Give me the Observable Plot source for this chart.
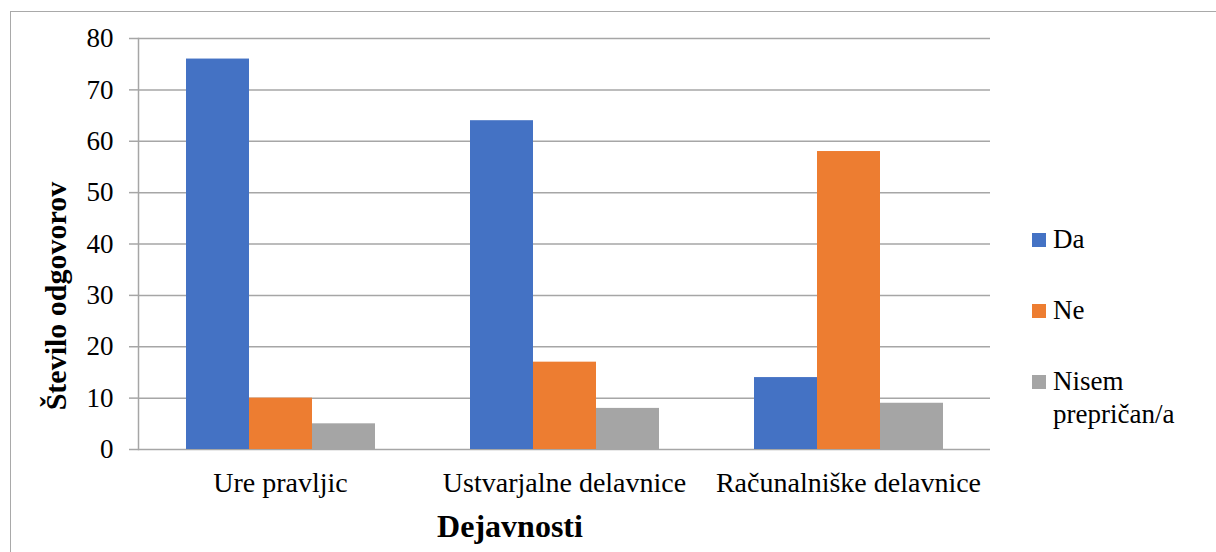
<!DOCTYPE html>
<html>
<head>
<meta charset="utf-8">
<script src="https://cdn.jsdelivr.net/npm/d3@7"></script>
<script src="https://cdn.jsdelivr.net/npm/@observablehq/plot@0.6"></script>
<style>
  html, body { margin: 0; padding: 0; background: #fff; overflow: hidden; }
  #wrap { position: relative; width: 1216px; height: 552px; overflow: hidden; font-family: "Liberation Serif", "Times New Roman", Times, "DejaVu Serif", serif; color: #000; }
  #border { position: absolute; left: 10px; top: 11px; width: 1300px; height: 700px; border-left: 1.5px solid #a9a9a9; border-top: 1.5px solid #a9a9a9; }
  #chart { position: absolute; left: 0; top: 0; }
  .ytitle { position: absolute; left: 56px; top: 296px; font-size: 30px; font-weight: bold; line-height: 30px; white-space: nowrap; transform: translate(-50%, -50%) rotate(-90deg); }
  .xtitle { position: absolute; left: 510px; top: 510px; font-size: 32px; font-weight: bold; line-height: 32px; white-space: nowrap; transform: translateX(-50%); }
  .leg { position: absolute; left: 1032px; font-size: 27px; line-height: 33px; font-family: "Liberation Serif", "Times New Roman", Times, "DejaVu Serif", serif; }
  .leg .sw { position: absolute; left: 0; top: 10px; width: 14px; height: 14px; }
  .leg .lab { position: absolute; left: 21px; top: 0; white-space: nowrap; }
  #chart svg text { font-family: "Liberation Serif", "Times New Roman", Times, "DejaVu Serif", serif; }
  #chart svg g[aria-label="fx-axis tick label"] { font-size: 28px; }
</style>
</head>
<body>
<div id="wrap">
  <div id="border"></div>
  <div id="chart"></div>
  <div class="ytitle" id="ytitle"></div>
  <div class="xtitle" id="xtitle"></div>
  <div id="legend"></div>
</div>
<script>
const categories = ["Ure pravljic", "Ustvarjalne delavnice", "Računalniške delavnice"];
const series = ["Da", "Ne", "Nisem prepričan/a"];
const daValues = [76, 64, 14];
const neValues = [10, 17, 58];
const nisemValues = [5, 8, 9];
const yTicks = [0, 10, 20, 30, 40, 50, 60, 70, 80];
const colors = ["#4472C4", "#ED7D31", "#A5A5A5"];
const yTitle = "Število odgovorov";
const xTitle = "Dejavnosti";
const legendLabels = ["Da", "Ne", "Nisem<br>prepričan/a"];

const valuesBySeries = [daValues, neValues, nisemValues];
const data = [];
categories.forEach((c, i) => {
  series.forEach((s, j) => data.push({cat: c, series: s, value: valuesBySeries[j][i]}));
});

const serif = "'Liberation Serif', 'Times New Roman', Times, 'DejaVu Serif', serif";
const grid = "#a6a6a6";
const chart = Plot.plot({
  width: 1216,
  height: 552,
  marginLeft: 137,
  marginRight: 225,
  marginTop: 38,
  marginBottom: 103,
  style: {fontFamily: serif, fontSize: "27px", color: "#000", background: "transparent", overflow: "visible"},
  fx: {domain: categories, padding: 0, label: null, axis: "bottom", tickSize: 0, tickPadding: 23},
  x: {domain: series, paddingInner: 0, paddingOuter: 0.747, axis: null},
  y: {domain: [0, 80], label: null},
  color: {domain: series, range: colors},
  marks: [
    Plot.gridY(yTicks, {stroke: grid, strokeOpacity: 1, strokeWidth: 1.5}),
    Plot.barY(data, {fx: "cat", x: "series", y: "value", fill: "series"}),
    Plot.frame({anchor: "left", facet: "super", stroke: grid, strokeWidth: 1.5}),
    Plot.axisY(yTicks, {tickSize: 9, tickPadding: 16, stroke: grid, strokeWidth: 1.5, label: null, fill: "#000"})
  ]
});
document.getElementById("chart").appendChild(chart);
document.getElementById("ytitle").textContent = yTitle;
document.getElementById("xtitle").textContent = xTitle;

const legendTops = [223, 294, 365];
const legend = document.getElementById("legend");
series.forEach((s, i) => {
  const item = document.createElement("div");
  item.className = "leg";
  item.style.top = legendTops[i] + "px";
  item.innerHTML = `<span class="sw" style="background:${colors[i]}"></span><span class="lab">${legendLabels[i]}</span>`;
  legend.appendChild(item);
});
</script>
</body>
</html>
